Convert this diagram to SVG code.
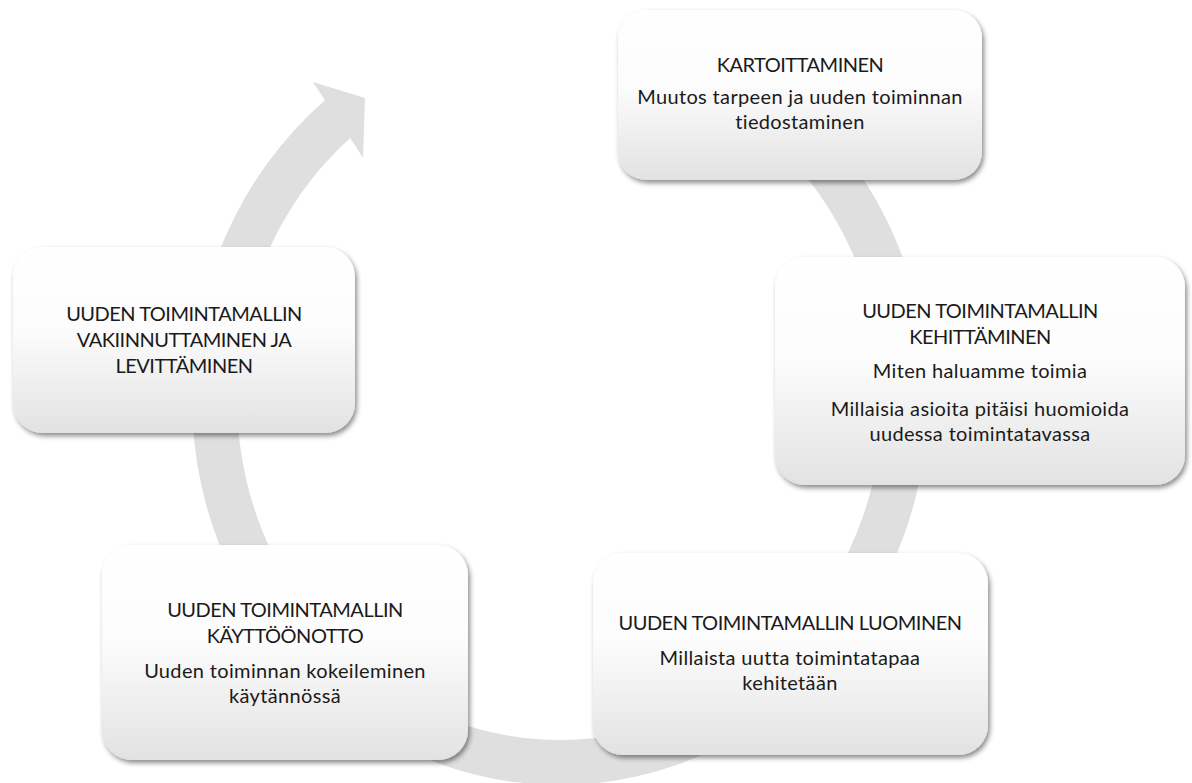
<svg xmlns="http://www.w3.org/2000/svg" width="1192" height="783" viewBox="0 0 1192 783">
<defs>
<linearGradient id="boxGrad" x1="0" y1="0" x2="0" y2="1">
<stop offset="0" stop-color="#ffffff"/>
<stop offset="0.45" stop-color="#fcfcfc"/>
<stop offset="1" stop-color="#e2e2e2"/>
</linearGradient>
<filter id="shadow" x="-10%" y="-10%" width="125%" height="130%">
<feDropShadow dx="2" dy="3" stdDeviation="2.5" flood-color="#000" flood-opacity="0.45"/>
</filter>
</defs>
<style>
.box{fill:url(#boxGrad);filter:url(#shadow);}
.t{font-family:Lato,"Liberation Sans",sans-serif;font-size:20px;fill:#1a1a1a;text-anchor:middle;}
.h{letter-spacing:-0.5px;}
.b{letter-spacing:0.35px;}
.arc{fill:#dfdfdf;}
</style>
<rect width="1192" height="783" fill="#ffffff"/>
<g id="connectors">
<path class="arc" d="M655.2,24.2 A368,387 0 1 1 324.9,100.2 L313,82 L365,98 L363,158 L350.2,137.9 A323,342 0 1 0 643.6,67.7 Z"/>
</g>
<g id="node-kartoittaminen">
<rect class="box" x="618" y="10" width="364" height="170" rx="28" ry="28"/>
<text class="t h" x="800" y="72">KARTOITTAMINEN</text>
<text class="t b" x="800" y="104">Muutos tarpeen ja uuden toiminnan</text>
<text class="t b" x="800" y="129">tiedostaminen</text>
</g>
<g id="node-kehittaminen">
<rect class="box" x="775" y="257" width="410" height="228" rx="30" ry="30"/>
<text class="t h" x="980" y="318">UUDEN TOIMINTAMALLIN</text>
<text class="t h" x="980" y="344">KEHITTÄMINEN</text>
<text class="t b" x="980" y="378">Miten haluamme toimia</text>
<text class="t b" x="980" y="416">Millaisia asioita pitäisi huomioida</text>
<text class="t b" x="980" y="441">uudessa toimintatavassa</text>
</g>
<g id="node-luominen">
<rect class="box" x="593" y="553" width="395" height="202" rx="30" ry="30"/>
<text class="t h" x="790" y="630">UUDEN TOIMINTAMALLIN LUOMINEN</text>
<text class="t b" x="790" y="665">Millaista uutta toimintatapaa</text>
<text class="t b" x="790" y="690">kehitetään</text>
</g>
<g id="node-kayttoonotto">
<rect class="box" x="102" y="545" width="366" height="215" rx="30" ry="30"/>
<text class="t h" x="285" y="617">UUDEN TOIMINTAMALLIN</text>
<text class="t h" x="285" y="643">KÄYTTÖÖNOTTO</text>
<text class="t b" x="285" y="678">Uuden toiminnan kokeileminen</text>
<text class="t b" x="285" y="703">käytännössä</text>
</g>
<g id="node-vakiinnuttaminen">
<rect class="box" x="13" y="247" width="342" height="186" rx="30" ry="30"/>
<text class="t h" x="184" y="321">UUDEN TOIMINTAMALLIN</text>
<text class="t h" x="184" y="347">VAKIINNUTTAMINEN JA</text>
<text class="t h" x="184" y="373">LEVITTÄMINEN</text>
</g>
</svg>
